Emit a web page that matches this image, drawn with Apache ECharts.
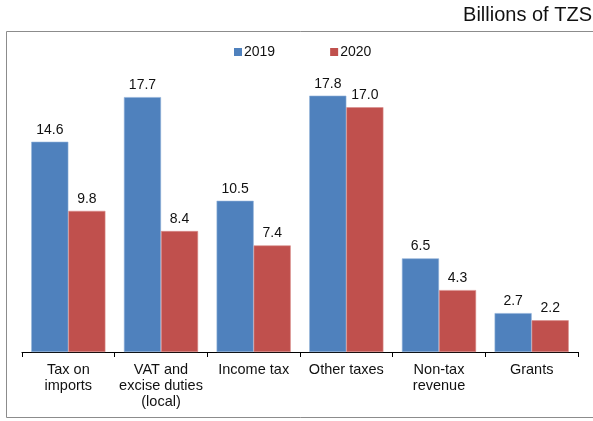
<!DOCTYPE html>
<html>
<head>
<meta charset="utf-8">
<script src="https://cdn.jsdelivr.net/npm/echarts@6/dist/echarts.min.js"></script>
<style>
  html, body { margin: 0; padding: 0; background: #fff; }
  #chart { width: 593px; height: 421px; }
</style>
</head>
<body>
<div id="chart"></div>
<script>
// Revenue by source, billions of TZS
const categories = [
  'Tax on\nimports',
  'VAT and\nexcise duties\n(local)',
  'Income tax',
  'Other taxes',
  'Non-tax\nrevenue',
  'Grants'
];
const values2019 = [14.6, 17.7, 10.5, 17.8, 6.5, 2.7];
const values2020 = [9.8, 8.4, 7.4, 17.0, 4.3, 2.2];
const seriesNames = ['2019', '2020'];

const FONT = '"Liberation Sans", Arial, sans-serif';

const chart = echarts.init(document.getElementById('chart'), null, { renderer: 'canvas' });

const labelStyle = {
  show: true,
  position: 'top',
  distance: 5,
  color: '#111',
  fontFamily: FONT,
  fontSize: 14,
  formatter: p => p.value.toFixed(1)
};

chart.setOption({
  animation: false,
  backgroundColor: '#fff',
  textStyle: { fontFamily: FONT },
  graphic: [
    {
      type: 'rect',
      shape: { x: 6.5, y: 31.5, width: 600, height: 386 },
      style: { fill: 'none', stroke: '#8c8c8c', lineWidth: 1 },
      silent: true
    },
    {
      type: 'text',
      right: 1,
      top: 5,
      style: {
        text: 'Billions of TZS',
        fill: '#111',
        font: '20px ' + FONT
      }
    }
  ],
  legend: {
    data: seriesNames,
    top: 45,
    left: 234,
    padding: 0,
    itemWidth: 8,
    itemHeight: 8,
    itemGap: 55,
    icon: 'rect',
    itemStyle: { borderWidth: 0 },
    textStyle: { fontFamily: FONT, fontSize: 14, color: '#111', padding: [0, 0, 0, -3] }
  },
  grid: {
    left: 22,
    right: 15,
    top: 64,
    bottom: 69,
    containLabel: false,
    outerBoundsMode: 'none'
  },
  xAxis: {
    type: 'category',
    data: categories,
    axisLine: { lineStyle: { color: '#000', width: 1 } },
    axisTick: { show: true, length: 5, lineStyle: { color: '#000' } },
    axisLabel: {
      interval: 0,
      margin: 10,
      color: '#111',
      fontFamily: FONT,
      fontSize: 14.5,
      lineHeight: 16
    }
  },
  yAxis: {
    type: 'value',
    min: 0,
    max: 20,
    show: false,
    splitLine: { show: false }
  },
  series: [
    {
      name: seriesNames[0],
      type: 'bar',
      data: values2019,
      barGap: '0%',
      barCategoryGap: '20%',
      itemStyle: { color: '#4F81BD', borderColor: '#8fb0d8', borderWidth: 0.6 },
      label: labelStyle
    },
    {
      name: seriesNames[1],
      type: 'bar',
      data: values2020,
      barGap: '0%',
      barCategoryGap: '20%',
      itemStyle: { color: '#C0504D', borderColor: '#d88d8b', borderWidth: 0.6 },
      label: labelStyle
    }
  ]
});
</script>
</body>
</html>
